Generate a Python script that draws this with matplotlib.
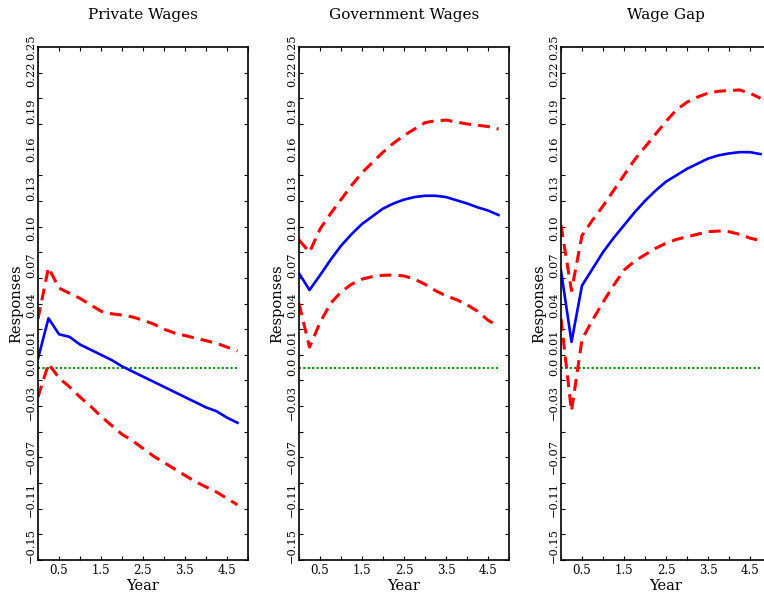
import numpy as np
import matplotlib
matplotlib.use("Agg")
from matplotlib import pyplot as plt
from matplotlib.ticker import FixedLocator

# quarterly horizon, years
year = [0.0, 0.25, 0.5, 0.75, 1.0, 1.25, 1.5, 1.75, 2.0, 2.25,
        2.5, 2.75, 3.0, 3.25, 3.5, 3.75, 4.0, 4.25, 4.5, 4.75]

titles = ["Private Wages", "Government Wages", "Wage Gap"]

# Private Wages
priv_mid = [0.007, 0.0385, 0.026, 0.024, 0.018, 0.014, 0.010, 0.006, 0.001, -0.003,
            -0.007, -0.011, -0.015, -0.019, -0.023, -0.027, -0.031, -0.034, -0.039, -0.043]
priv_hi = [0.038, 0.078, 0.062, 0.058, 0.054, 0.049, 0.044, 0.042, 0.041, 0.0395,
           0.037, 0.034, 0.030, 0.027, 0.025, 0.023, 0.021, 0.019, 0.016, 0.013]
priv_lo = [-0.023, 0.003, -0.008, -0.015, -0.023, -0.030, -0.038, -0.045, -0.052, -0.057,
           -0.063, -0.069, -0.074, -0.079, -0.084, -0.089, -0.093, -0.097, -0.102, -0.107]

# Government Wages
gov_mid = [0.0736, 0.0605, 0.072, 0.084, 0.095, 0.104, 0.112, 0.118, 0.124, 0.128,
           0.131, 0.133, 0.134, 0.134, 0.133, 0.1305, 0.128, 0.125, 0.1225, 0.119]
gov_hi = [0.0995, 0.090, 0.108, 0.120, 0.131, 0.142, 0.152, 0.160, 0.168, 0.175,
          0.181, 0.186, 0.191, 0.1925, 0.193, 0.1915, 0.190, 0.189, 0.188, 0.186]
gov_lo = [0.050, 0.016, 0.035, 0.050, 0.059, 0.065, 0.069, 0.071, 0.072, 0.0722,
          0.0715, 0.069, 0.065, 0.060, 0.056, 0.053, 0.049, 0.044, 0.037, 0.032]

# Wage Gap
gap_mid = [0.0756, 0.020, 0.064, 0.077, 0.090, 0.101, 0.111, 0.121, 0.130, 0.138,
           0.145, 0.150, 0.155, 0.159, 0.163, 0.1655, 0.167, 0.168, 0.168, 0.1665]
gap_hi = [0.111, 0.060, 0.103, 0.115, 0.126, 0.138, 0.150, 0.162, 0.172, 0.182,
          0.192, 0.201, 0.207, 0.211, 0.214, 0.2155, 0.216, 0.2165, 0.214, 0.210]
gap_lo = [0.038, -0.034, 0.022, 0.037, 0.051, 0.064, 0.076, 0.083, 0.088, 0.093,
          0.097, 0.100, 0.102, 0.104, 0.106, 0.1065, 0.106, 0.104, 0.101, 0.099]

mids = [priv_mid, gov_mid, gap_mid]
his = [priv_hi, gov_hi, gap_hi]
los = [priv_lo, gov_lo, gap_lo]

# y tick labels as printed, and where they sit on the axis
ylabels = ["0.25", "0.22", "0.19", "0.16", "0.13", "0.10", "0.07", "0.04", "0.01", "0.0",
           "\u22120.03", "\u22120.07", "\u22120.11", "\u22120.15"]
ylabel_pos = [0.250, 0.229, 0.200, 0.170, 0.140, 0.109, 0.080, 0.049, 0.0195, 0.0002,
              -0.0275, -0.069, -0.103, -0.139]

xticks = [0, 0.5, 1, 1.5, 2, 2.5, 3, 3.5, 4, 4.5, 5]
xticklabels = ["", "0.5", "", "1.5", "", "2.5", "", "3.5", "", "4.5", ""]

plt.rcParams["font.family"] = ["DejaVu Serif"]

fig = plt.figure(figsize=(7.64, 5.95), dpi=100)
lefts = [38, 299, 561]

for i in range(3):
    ax = fig.add_axes([lefts[i] / 764, 35 / 595, 210 / 764, 513 / 595])
    zero = np.zeros(len(year))
    ax.plot(year, zero, color="#008a00", lw=1.5, linestyle=(0, (1, 1.1)))
    ax.plot(year, his[i], color="#ff0000", lw=2.2, linestyle=(0, (3.9, 2.3)))
    ax.plot(year, los[i], color="#ff0000", lw=2.2, linestyle=(0, (3.9, 2.3)))
    ax.plot(year, mids[i], color="#0000ff", lw=1.9)

    ax.set_xlim(0, 5)
    ax.set_ylim(-0.15, 0.25)

    ax.xaxis.set_major_locator(FixedLocator(xticks))
    ax.set_xticklabels(xticklabels, fontsize=8.5)
    ax.tick_params(axis="x", which="major", direction="in", length=3, width=0.8,
                   top=True, bottom=True, pad=3)

    ax.yaxis.set_major_locator(FixedLocator(ylabel_pos))
    ax.set_yticklabels(ylabels, fontsize=8.2, rotation=90, va="center")
    ax.tick_params(axis="y", which="major", length=0, pad=1.5)
    ax.yaxis.set_minor_locator(FixedLocator(np.linspace(-0.15, 0.25, 21)))
    ax.tick_params(axis="y", which="minor", direction="in", length=3, width=0.8,
                   left=True, right=True)

    for s in ax.spines.values():
        s.set_linewidth(1.2)

    ax.set_title(titles[i], fontsize=11, pad=20)
    ax.set_xlabel("Year", fontsize=10.5, labelpad=1)
    ax.set_ylabel("Responses", fontsize=10.5, labelpad=2)

plt.savefig("out.png", dpi=100)
